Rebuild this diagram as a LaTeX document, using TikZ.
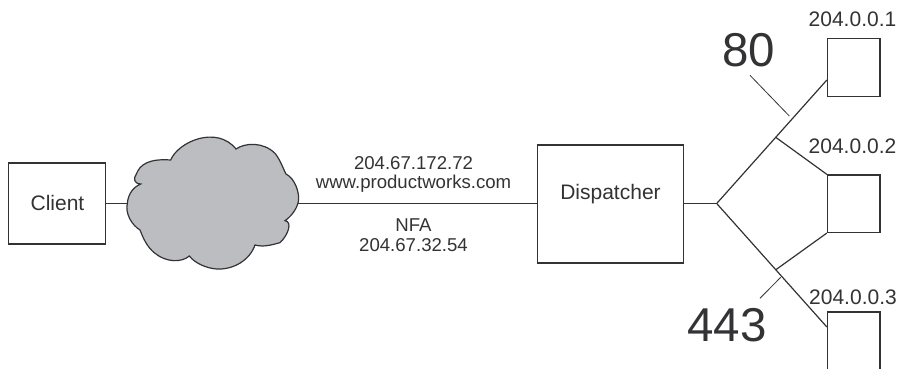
\documentclass[tikz,border=0pt]{standalone}
\usepackage{fontspec}
\setmainfont{Liberation Sans}
\definecolor{ink}{HTML}{333335}
\definecolor{cloudgray}{HTML}{BBBDC0}
\tikzset{
  x=1pt,y=-1pt,
  boxn/.style={draw=ink,line width=1.2pt,fill=white,inner sep=0pt,font=\fontsize{21}{24}\selectfont,text=ink},
  lbl/.style={inner sep=0pt,text=ink,font=\fontsize{21}{24}\selectfont},
  midlbl/.style={inner sep=0pt,text=ink,font=\fontsize{18.6}{20}\selectfont},
  big/.style={inner sep=0pt,text=ink,font=\fontsize{47.5}{50}\selectfont},
  wire/.style={draw=ink,line width=1.2pt},
  tick/.style={draw=ink,line width=0.8pt}
}
\begin{document}
\begin{tikzpicture}
\useasboundingbox (0,0) rectangle (900,368);
\clip (0,0) rectangle (900,368);
\node[boxn,minimum width=97pt,minimum height=81pt] (client) at (57,203.5) {};
\node[lbl] (clienttext) at (57.5,202.5) {Client};
\node[boxn,minimum width=146pt,minimum height=118pt] (disp) at (610.5,204) {};
\node[lbl] (disptext) at (610.5,194.5) {Dispatcher};
\node[boxn,minimum width=52.5pt,minimum height=57.5pt] (s1) at (853.7,67.5) {};
\node[boxn,minimum width=52.5pt,minimum height=57.5pt] (s2) at (853.7,203.7) {};
\node[boxn,minimum width=52.5pt,minimum height=70pt] (s3) at (853.7,347) {};
\begin{scope}[shift={(100,110)},x=0.3333pt,y=-0.3333pt]
\draw[draw=ink,line width=1.2pt,fill=cloudgray] (212,150)
 .. controls (235,95) and (350,45) .. (408,117)
 .. controls (435,98) and (490,95) .. (525,130)
 .. controls (540,148) and (548,172) .. (558,192)
 .. controls (585,205) and (600,250) .. (595,275)
 .. controls (590,300) and (570,322) .. (555,332)
 .. controls (578,335) and (565,375) .. (540,398)
 .. controls (515,405) and (490,412) .. (465,405)
 .. controls (450,450) and (400,480) .. (350,477)
 .. controls (320,475) and (285,460) .. (268,438)
 .. controls (245,458) and (200,458) .. (165,430)
 .. controls (140,410) and (130,385) .. (120,360)
 .. controls (95,345) and (75,310) .. (82,280)
 .. controls (85,250) and (100,232) .. (122,222)
 .. controls (100,220) and (100,205) .. (110,190)
 .. controls (120,165) and (145,145) .. (212,150) -- cycle;
\coordinate (cloudL) at (82,280);
\coordinate (cloudR) at (595,280);
\end{scope}
\coordinate (hub) at (716.7,203.5);
\coordinate (j1) at (776,137.5);
\coordinate (j3) at (776,269.6);
\coordinate (e1) at (s1.west|-0,80);
\coordinate (e3) at (s3.west|-0,327);
\coordinate (t1a) at (750,75.3);
\coordinate (t1b) at (789.3,116);
\coordinate (t3a) at (760,298.3);
\coordinate (t3b) at (780.7,277.3);
\draw[wire] (client.east |- cloudL) -- (cloudL);
\draw[wire] (cloudR) -- (disp.west |- cloudR);
\draw[wire] (disp.east |- hub) -- (hub);
\draw[wire] (e1) -- (hub) -- (e3);
\draw[wire] (j1) -- (s2.north west);
\draw[wire] (j3) -- (s2.south west);
\draw[tick] (t1a) -- (t1b);
\draw[tick] (t3a) -- (t3b);
\node[midlbl] (a1) at (413.5,163.5) {204.67.172.72};
\node[midlbl] (a2) at (413.5,184) {www.productworks.com};
\node[midlbl] (a3) at (413.5,225) {NFA};
\node[midlbl] (a4) at (413.5,245) {204.67.32.54};
\node[lbl] (l1) at (852.5,19) {204.0.0.1};
\node[lbl] (l2) at (852.5,146) {204.0.0.2};
\node[lbl] (l3) at (853,297.5) {204.0.0.3};
\node[big] (n80) at (749,50.5) {80};
\node[big] (n443) at (727,325) {443};
\end{tikzpicture}
\end{document}
